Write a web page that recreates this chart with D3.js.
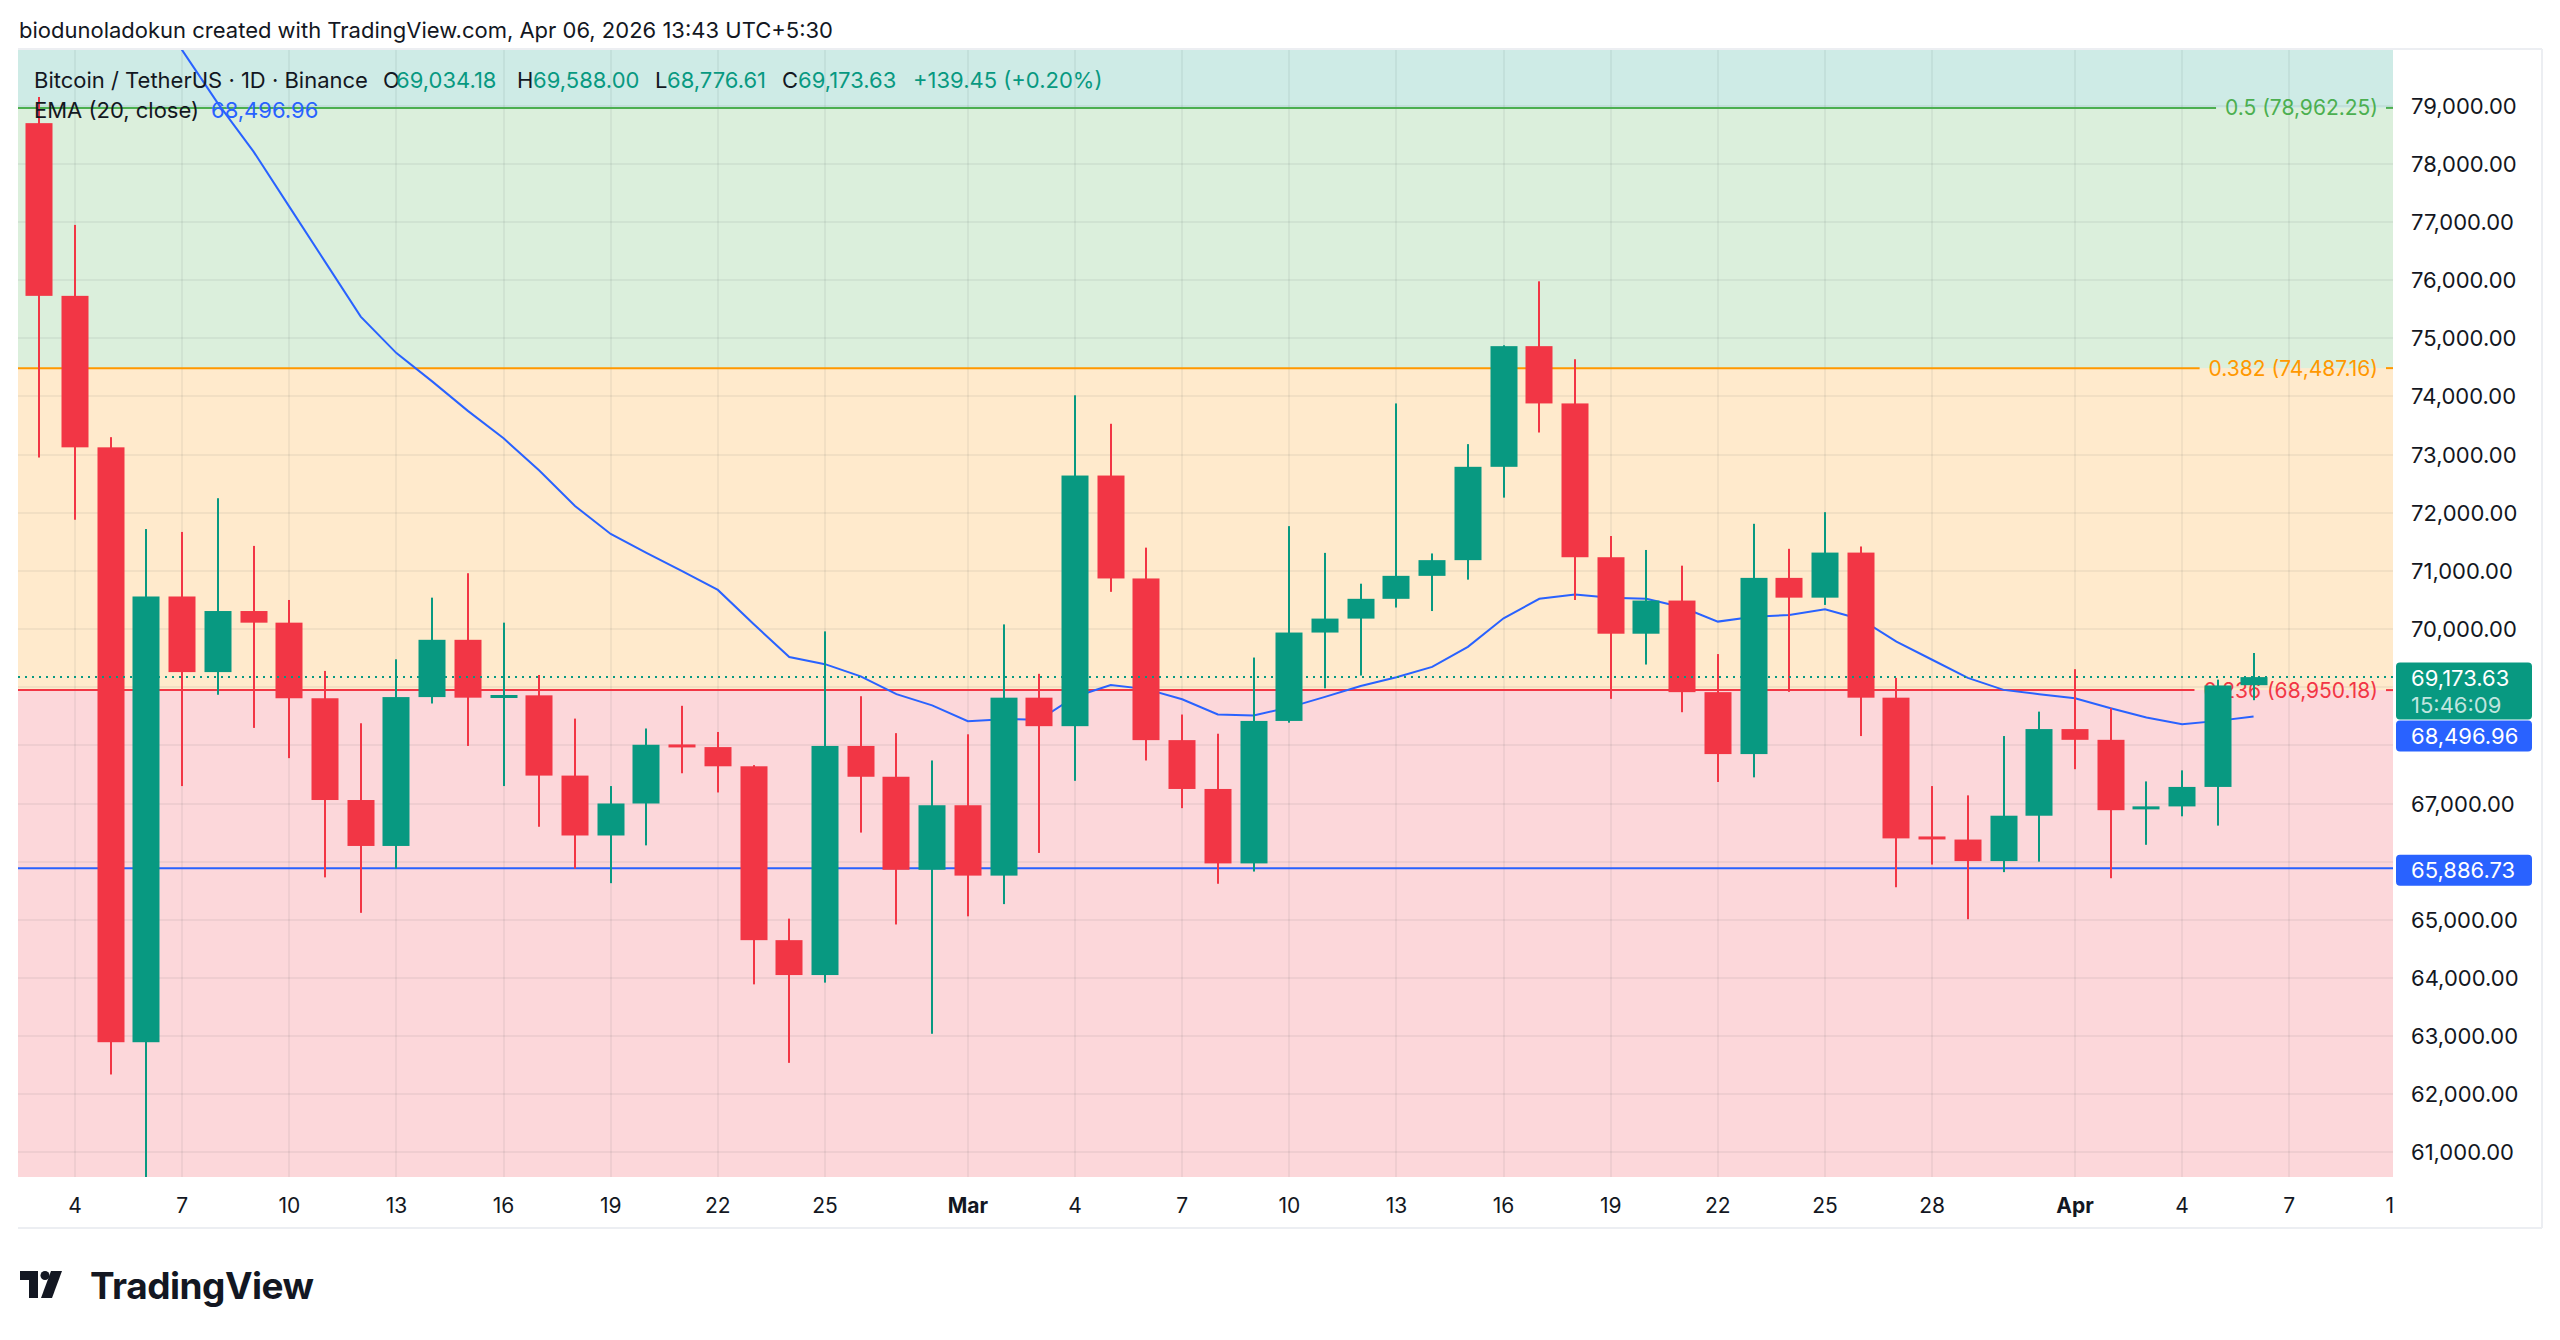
<!DOCTYPE html>
<html><head><meta charset="utf-8">
<script src="https://cdn.jsdelivr.net/npm/d3@7"></script>
<style>
body{margin:0;background:#fff;}
svg{display:block;font-family:Inter,"Noto Sans",Roboto,sans-serif;}
</style>
</head><body>
<svg id="c" width="2560" height="1340"></svg>
<script>
// ---------------- DATA ----------------
const dates = ["2026-02-03","2026-02-04","2026-02-05","2026-02-06","2026-02-07","2026-02-08","2026-02-09","2026-02-10","2026-02-11","2026-02-12","2026-02-13",
"2026-02-14","2026-02-15","2026-02-16","2026-02-17","2026-02-18","2026-02-19","2026-02-20","2026-02-21","2026-02-22","2026-02-23","2026-02-24",
"2026-02-25","2026-02-26","2026-02-27","2026-02-28","2026-03-01","2026-03-02","2026-03-03","2026-03-04","2026-03-05","2026-03-06","2026-03-07",
"2026-03-08","2026-03-09","2026-03-10","2026-03-11","2026-03-12","2026-03-13","2026-03-14","2026-03-15","2026-03-16","2026-03-17","2026-03-18",
"2026-03-19","2026-03-20","2026-03-21","2026-03-22","2026-03-23","2026-03-24","2026-03-25","2026-03-26","2026-03-27","2026-03-28","2026-03-29",
"2026-03-30","2026-03-31","2026-04-01","2026-04-02","2026-04-03","2026-04-04","2026-04-05","2026-04-06"];
const opens = [78700,75730,73125,62895,70560,69260,70310,70110,68810,67060,66270,
68830,69815,68820,68860,67480,66450,67000,68010,67970,67640,64650,
64050,67990,67460,65860,66970,65760,68820,68330,72640,70870,68090,
67250,65970,68420,69940,70180,70520,70915,71185,72790,74865,73880,
71235,69920,70490,68915,67850,70880,70540,71315,68820,66420,66380,
66010,66790,68280,68095,66900,66950,67285,69034.18];
const highs = [79150,76950,73300,71720,71670,72250,71430,70500,69280,68380,69480,
70540,70960,70110,69210,68460,67300,68290,68680,68230,67660,65020,
69960,68845,68210,67740,68190,70080,69230,74020,73530,71400,68530,
68200,69510,71770,71310,70780,73880,71300,73180,74880,75980,74640,
71600,71360,71090,69570,71810,71380,72010,71420,69160,67300,67140,
68160,68580,69310,68640,67380,67570,69130,69588.00];
const lows = [72950,71880,62340,60070,67300,68870,68300,67780,65730,65120,65880,
68720,67990,67300,66600,65880,65630,66280,67520,67190,63890,62540,
63920,66500,64920,63040,65060,65270,66150,67390,70640,67740,66920,
65620,65830,68390,68980,69200,70370,70310,70850,72260,73380,70500,
68800,69390,68570,67370,67450,68920,70415,68160,65560,65950,65010,
65820,66000,67590,65715,66290,66780,66620,68776.61];
const closes = [75730,73125,62895,70560,69260,70310,70110,68810,67060,66270,68830,
69815,68820,68860,67480,66450,67000,68010,67970,67640,64650,64050,
67990,67460,65860,66970,65760,68820,68330,72640,70870,68090,67250,
65970,68420,69940,70180,70520,70915,71185,72790,74865,73880,71235,
69920,70490,68915,67850,70880,70540,71315,68820,66400,66395,66010,
66790,68280,68095,66885,66950,67285,69030,69173.63];
const ema20 = [85373,84209,82182,81078,79956,79040,78211,77265,76319,75373,74746,
74259,73752,73280,72728,72116,71635,71311,70996,70673,70087,69518,
69396,69186,68880,68687,68416,68451,68439,68836,69037,68967,68792,
68530,68515,68653,68834,69022,69170,69350,69694,70185,70521,70595,
70538,70521,70374,70128,70210,70243,70341,70169,69784,69472,69161,
68954,68879,68811,68639,68478,68363,68421,68496.96];

const priceTicks = [61000,62000,63000,64000,65000,66000,67000,68000,69000,70000,71000,72000,73000,74000,75000,76000,77000,78000,79000];
const xTickDates = ["2026-02-04","2026-02-07","2026-02-10","2026-02-13","2026-02-16","2026-02-19","2026-02-22","2026-02-25","2026-03-01","2026-03-04","2026-03-07",
"2026-03-10","2026-03-13","2026-03-16","2026-03-19","2026-03-22","2026-03-25","2026-03-28","2026-04-01","2026-04-04","2026-04-07","2026-04-10"];
const xTickLabels = ["4","7","10","13","16","19","22","25","Mar","4","7","10","13","16","19","22","25","28","Apr","4","7","10"];

const fibRatios = [0, 0.236, 0.382, 0.5, 0.618];
const fibPrices = [60000.00, 68950.18, 74487.16, 78962.25, 83437.34];
const horizLine = 65886.73;
const countdown = "15:46:09";

// ---------------- LAYOUT ----------------
const L = 18, R = 2393, T = 50, B = 1177, AXR = 2542, AXB = 1228;
const UP = "#089981", DOWN = "#F23645", BLUE = "#2962FF", TXT = "#131722";
const fibLine = ["#787B86", "#F23645", "#FF9800", "#4CAF50", "#089981"];
const fibFill = ["rgba(242,54,69,0.2)", "rgba(255,152,0,0.2)", "rgba(76,175,80,0.2)", "rgba(8,153,129,0.2)"];

const parse = d3.utcParse("%Y-%m-%d");
const x = d3.scaleUtc().domain([parse("2026-02-04"), parse("2026-04-04")]).range([75, 75 + 59 * 1000 / 28]);
const y = d3.scaleLinear().domain([60577, 79958]).range([B, T]);
const fmt = d3.format(",.2f");

const svg = d3.select("#c");
svg.append("rect").attr("width", 2560).attr("height", 1340).attr("fill", "#fff");
const defs = svg.append("defs");
defs.append("clipPath").attr("id", "pane").append("rect").attr("x", L).attr("y", T).attr("width", R - L).attr("height", B - T);
defs.append("clipPath").attr("id", "xax").append("rect").attr("x", L).attr("y", B).attr("width", R - L).attr("height", AXB - B);

const pane = svg.append("g").attr("clip-path", "url(#pane)");

// fib zones
for (let i = 0; i < fibFill.length; i++) {
  const y0 = y(fibPrices[i]), y1 = y(fibPrices[i + 1]);
  pane.append("rect").attr("x", L).attr("width", R - L).attr("y", y1).attr("height", y0 - y1).attr("fill", fibFill[i]);
}

// grid
const grid = pane.append("g").attr("stroke", "rgba(42,46,57,0.06)").attr("stroke-width", 2);
priceTicks.forEach(p => grid.append("line").attr("x1", L).attr("x2", R).attr("y1", Math.round(y(p))).attr("y2", Math.round(y(p))));
xTickDates.forEach(d => grid.append("line").attr("y1", T).attr("y2", B).attr("x1", Math.round(x(parse(d)))).attr("x2", Math.round(x(parse(d)))));

// fib lines + labels
fibRatios.forEach((r, i) => {
  const p = fibPrices[i], yy = y(p);
  if (yy < T || yy > B) return;
  const t = pane.append("text").attr("x", 2378).attr("y", yy).attr("text-anchor", "end")
    .attr("dominant-baseline", "central").attr("font-size", 21).attr("fill", fibLine[i])
    .text(`${r} (${fmt(p)})`);
  const w = t.node().getComputedTextLength();
  pane.append("line").attr("x1", L).attr("x2", 2378 - w - 9).attr("y1", yy).attr("y2", yy).attr("stroke", fibLine[i]).attr("stroke-width", 2);
  pane.append("line").attr("x1", 2386).attr("x2", R).attr("y1", yy).attr("y2", yy).attr("stroke", fibLine[i]).attr("stroke-width", 2);
  t.raise();
});

// horizontal blue line
pane.append("line").attr("x1", L).attr("x2", R).attr("y1", y(horizLine)).attr("y2", y(horizLine)).attr("stroke", BLUE).attr("stroke-width", 2);

// EMA
const emaLine = d3.line().x((d, i) => x(parse(dates[i]))).y(d => y(d));
pane.append("path").datum(ema20).attr("d", emaLine).attr("fill", "none").attr("stroke", BLUE).attr("stroke-width", 2);

// candles
const bw = 27;
const candles = pane.append("g");
dates.forEach((d, i) => {
  const cx = Math.round(x(parse(d)));
  const up = closes[i] >= opens[i];
  const col = up ? UP : DOWN;
  candles.append("rect").attr("x", cx - 1).attr("width", 2)
    .attr("y", y(highs[i])).attr("height", y(lows[i]) - y(highs[i])).attr("fill", col);
  let top = y(Math.max(opens[i], closes[i])), bot = y(Math.min(opens[i], closes[i]));
  if (bot - top < 3) { const m = (top + bot) / 2; top = m - 1.5; bot = m + 1.5; }
  candles.append("rect").attr("x", cx - bw / 2).attr("width", bw).attr("y", top).attr("height", bot - top).attr("fill", col);
});

// current price dotted line
const last = closes[closes.length - 1];
pane.append("line").attr("x1", L).attr("x2", R).attr("y1", y(last)).attr("y2", y(last))
  .attr("stroke", UP).attr("stroke-width", 2).attr("stroke-dasharray", "2 5");

// ---------------- AXES ----------------
const xax = svg.append("g").attr("clip-path", "url(#xax)");
xTickDates.forEach((d, i) => {
  const lab = xTickLabels[i];
  xax.append("text").attr("x", x(parse(d))).attr("y", 1205).attr("text-anchor", "middle")
    .attr("dominant-baseline", "central").attr("font-size", 21).attr("fill", TXT)
    .attr("font-weight", isNaN(+lab) ? 700 : 400).text(lab);
});

// label boxes geometry
const yc = y(last);
const gTop = yc - 14.5, gBot = gTop + 57;
const emaLast = ema20[ema20.length - 1];
const eTop = Math.max(y(emaLast) - 15.5, gBot + 1);
const hTop = y(horizLine) - 13.5;
const boxes = [[gTop, 57, UP], [eTop, 31, BLUE], [hTop, 31, BLUE]];

// price tick labels (those hidden under the last-value boxes are not drawn)
const pax = svg.append("g");
priceTicks.forEach(p => {
  const yy = y(p);
  const hidden = boxes.some(([bt, bh]) => yy + 11 > bt && yy - 11 < bt + bh);
  if (hidden) return;
  pax.append("text").attr("x", 2411).attr("y", yy).attr("dominant-baseline", "central")
    .attr("font-size", 22).attr("fill", TXT).text(fmt(p));
});

function box(yTop, h, fill) {
  pax.append("rect").attr("x", 2396).attr("y", yTop).attr("width", 136).attr("height", h).attr("rx", 4).attr("fill", fill);
}
box(gTop, 57, UP);
pax.append("text").attr("x", 2411).attr("y", yc + 1).attr("dominant-baseline", "central").attr("font-size", 22).attr("fill", "#fff").text(fmt(last));
pax.append("text").attr("x", 2411).attr("y", yc + 28).attr("dominant-baseline", "central").attr("font-size", 22).attr("fill", "rgba(255,255,255,0.75)").text(countdown);
box(eTop, 31, BLUE);
pax.append("text").attr("x", 2411).attr("y", eTop + 15.5).attr("dominant-baseline", "central").attr("font-size", 22).attr("fill", "#fff").text(fmt(emaLast));
box(hTop, 31, BLUE);
pax.append("text").attr("x", 2411).attr("y", hTop + 15.5).attr("dominant-baseline", "central").attr("font-size", 22).attr("fill", "#fff").text(fmt(horizLine));

// frame
const fr = svg.append("g").attr("stroke", "#eceef2").attr("stroke-width", 2).attr("fill", "none");
fr.append("line").attr("x1", L).attr("x2", AXR).attr("y1", T - 1).attr("y2", T - 1);
fr.append("line").attr("x1", L).attr("x2", AXR).attr("y1", AXB).attr("y2", AXB);
fr.append("line").attr("x1", AXR).attr("x2", AXR).attr("y1", T - 1).attr("y2", AXB);

// ---------------- HEADER / LEGEND ----------------
svg.append("text").attr("x", 19).attr("y", 30).attr("dominant-baseline", "central").attr("font-size", 22).attr("fill", TXT)
  .text("biodunoladokun created with TradingView.com, Apr 06, 2026 13:43 UTC+5:30");
const leg = [
  [34, "Bitcoin / TetherUS · 1D · Binance", TXT],
  [383, "O", TXT], [396, fmt(opens[62]), UP],
  [517, "H", TXT], [533, fmt(highs[62]), UP],
  [655, "L", TXT], [667, fmt(lows[62]), UP],
  [782, "C", TXT], [798, fmt(closes[62]), UP],
  [913, "+139.45 (+0.20%)", UP]
];
leg.forEach(([lx, s, c]) => svg.append("text").attr("x", lx).attr("y", 80).attr("dominant-baseline", "central").attr("font-size", 22).attr("fill", c).text(s));
svg.append("text").attr("x", 34).attr("y", 110).attr("dominant-baseline", "central").attr("font-size", 22).attr("fill", TXT).text("EMA (20, close)");
svg.append("text").attr("x", 211).attr("y", 110).attr("dominant-baseline", "central").attr("font-size", 22).attr("fill", BLUE).text(fmt(emaLast));

// ---------------- LOGO ----------------
const logo = svg.append("g").attr("fill", "#131722");
logo.append("path").attr("d", "M20,1271 H38 V1298 H29 V1280 H20 Z");
logo.append("circle").attr("cx", 45).attr("cy", 1275.5).attr("r", 4.5);
logo.append("path").attr("d", "M51,1271 H62 L52,1298 H41 Z");
svg.append("text").attr("x", 90).attr("y", 1285).attr("dominant-baseline", "central").attr("font-size", 37)
  .attr("font-weight", 700).attr("letter-spacing", -0.5).attr("fill", "#131722").text("TradingView");
</script>
</body></html>
